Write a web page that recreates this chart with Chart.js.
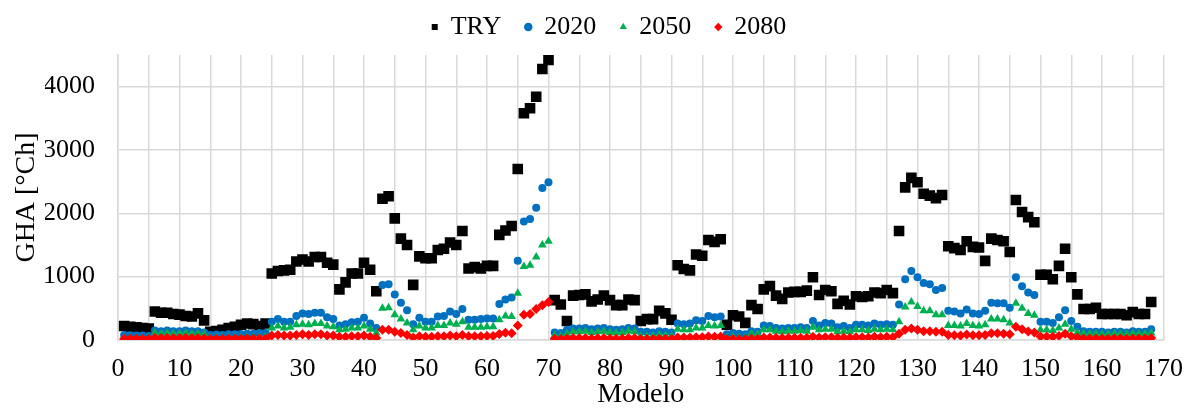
<!DOCTYPE html>
<html>
<head>
<meta charset="utf-8">
<script src="https://cdn.jsdelivr.net/npm/chart.js@4.4.1/dist/chart.umd.min.js"></script>
<style>
html,body{margin:0;padding:0;background:#fff;}
#wrap{position:relative;width:1197px;height:409px;}
</style>
</head>
<body>
<div id="wrap"><canvas id="c" width="1197" height="409"></canvas></div>
<script>
const modelo = Array.from({length: 168}, (_, i) => i + 1);
const xTicks = [0,10,20,30,40,50,60,70,80,90,100,110,120,130,140,150,160,170];
const yTicks = [0,500,1000,1500,2000,2500,3000,3500,4000,4500];

const seriesTRY = [
 220,210,200,190,180,450,430,430,410,400,380,370,420,310,130,140,160,190,210,240,
 260,250,220,260,1050,1090,1100,1110,1240,1270,1240,1310,1310,1220,1190,800,910,1050,1050,1220,
 1110,770,2230,2270,1920,1600,1500,870,1320,1290,1290,1420,1440,1540,1500,1720,1130,1150,1130,1170,
 1170,1660,1730,1800,2700,3580,3660,3840,4280,4420,630,560,300,700,710,720,610,640,700,630,
 550,550,640,630,300,330,330,460,420,320,1180,1120,1100,1350,1330,1580,1550,1590,240,390,
 370,270,550,490,800,850,700,650,750,760,760,780,990,710,790,770,570,620,560,690,
 680,690,750,740,790,740,1720,2410,2560,2490,2310,2280,2240,2290,1480,1450,1420,1560,1470,1460,
 1250,1600,1580,1560,1390,2210,2020,1940,1860,1030,1030,960,1170,1440,990,720,490,490,510,410,
 410,410,410,390,440,410,410,600];

const series2020 = [
 80,75,70,70,65,150,140,150,140,140,150,140,140,120,80,85,80,90,90,95,
 100,100,110,110,290,330,290,290,380,420,410,430,430,360,330,230,250,280,290,350,
 260,190,870,880,720,590,470,250,350,290,290,370,380,450,410,490,320,320,330,340,
 340,570,640,670,1250,1870,1910,2090,2400,2490,120,110,160,180,180,190,170,180,190,170,
 160,170,190,180,130,130,120,140,130,120,260,250,260,310,300,380,360,370,90,110,
 100,90,140,130,230,220,190,180,190,190,200,190,300,230,270,260,200,220,190,240,
 240,230,260,240,250,240,560,960,1090,990,900,880,790,820,460,450,420,480,420,410,
 460,590,580,580,510,990,850,750,710,290,290,270,360,470,300,210,140,130,130,130,
 120,130,130,120,140,130,130,170];

const series2050 = [
 30,30,25,25,20,110,100,110,100,100,110,100,100,90,30,35,30,35,35,40,
 45,40,45,50,190,220,190,200,240,250,240,260,260,220,210,160,170,190,190,220,
 170,110,500,510,400,330,270,160,220,190,190,230,230,270,250,290,200,200,200,210,
 210,320,380,370,740,1160,1180,1310,1500,1560,70,60,100,130,130,140,120,130,140,120,
 110,120,140,130,60,60,60,80,70,60,170,160,160,190,190,230,220,230,30,50,
 40,30,100,90,160,160,140,130,140,140,150,140,200,160,170,170,130,140,130,160,
 160,150,170,160,170,160,290,520,600,530,460,460,400,400,230,230,220,260,230,220,
 240,330,330,320,270,580,500,420,390,160,160,150,190,250,170,120,100,100,100,90,
 90,100,100,90,100,100,100,110];

const series2080 = [
 20,20,20,15,15,35,30,35,30,30,35,30,30,25,15,15,15,20,20,20,
 25,20,25,25,70,80,70,70,80,90,80,90,90,70,70,50,50,60,60,70,
 50,30,160,160,130,110,80,40,60,50,50,60,60,70,60,80,60,60,60,65,
 65,95,115,105,230,400,410,490,550,600,20,15,25,30,30,30,25,30,30,25,
 20,25,30,30,15,15,15,20,20,15,40,40,40,45,45,55,50,55,10,15,
 10,10,25,20,40,40,35,30,35,35,35,35,50,40,45,45,35,40,35,45,
 45,40,50,45,50,45,100,160,180,160,140,140,130,130,80,75,70,85,75,75,
 80,105,105,100,90,210,170,135,120,55,55,50,65,100,60,40,25,25,25,20,
 20,25,25,20,25,25,25,30];

const toXY = arr => arr.map((v, i) => ({x: modelo[i], y: v}));
const FONT = "'Liberation Serif', 'Times New Roman', serif";
const GRID = '#d9d9d9';

const legendFix = {
  id: 'legendFix',
  beforeInit(chart) {
    const lg = chart.legend;
    if (lg) {
      const orig = lg.fit;
      lg.fit = function() { orig.call(this); this.height = 65; };
    }
  }
};

new Chart(document.getElementById('c'), {
  type: 'scatter',
  data: {
    datasets: [
      {label: 'TRY', data: toXY(seriesTRY), pointStyle: 'rect', pointRadius: 7.5, backgroundColor: '#000000', borderColor: '#000000', borderWidth: 0, order: 4},
      {label: '2020', data: toXY(series2020), pointStyle: 'circle', pointRadius: 4, backgroundColor: '#0070C0', borderColor: '#0070C0', borderWidth: 0, order: 3},
      {label: '2050', data: toXY(series2050), pointStyle: 'triangle', pointRadius: 5, backgroundColor: '#00B050', borderColor: '#00B050', borderWidth: 0, order: 2},
      {label: '2080', data: toXY(series2080), pointStyle: 'rectRot', pointRadius: 5, backgroundColor: '#FF0000', borderColor: '#FF0000', borderWidth: 0, order: 1}
    ]
  },
  options: {
    responsive: false,
    animation: false,
    events: [],
    layout: {padding: {left: 45, right: 24, top: -10, bottom: 0}},
    plugins: {
      tooltip: {enabled: false},
      legend: {
        position: 'top',
        labels: {
          usePointStyle: true,
          boxWidth: 6,
          boxHeight: 6,
          padding: 24,
          color: '#000',
          font: {family: FONT, size: 26},
          sort: (a, b) => a.datasetIndex - b.datasetIndex
        }
      }
    },
    scales: {
      x: {
        type: 'linear',
        min: 0, max: 170,
        afterFit: s => { s.height = 69; },
        afterBuildTicks: s => { const t = []; for (const v of xTicks) { t.push({value: v}); if (v < 170) t.push({value: v + 5}); } s.ticks = t; },
        grid: {color: GRID, lineWidth: 1.5, drawTicks: false},
        border: {color: GRID, width: 1.5},
        ticks: {
          autoSkip: false, maxRotation: 0, padding: 14, color: '#000',
          font: {family: FONT, size: 26},
          callback: v => (xTicks.includes(v) ? String(v) : '')
        },
        title: {display: true, text: 'Modelo', color: '#000', font: {family: FONT, size: 28, lineHeight: 1}, padding: {top: 0, bottom: 0}}
      },
      y: {
        min: 0, max: 4500,
        afterFit: s => { s.width = 73; },
        afterBuildTicks: s => { s.ticks = yTicks.map(v => ({value: v})); },
        grid: {color: GRID, lineWidth: 1.5, drawTicks: false},
        border: {color: GRID, width: 1.5},
        ticks: {padding: 23, color: '#000', font: {family: FONT, size: 26}, callback: v => String(v)},
        title: {display: true, text: 'GHA [°Ch]', color: '#000', font: {family: FONT, size: 28, lineHeight: 1}, padding: {top: -32, bottom: 0}}
      }
    }
  },
  plugins: [legendFix]
});
</script>
</body>
</html>
